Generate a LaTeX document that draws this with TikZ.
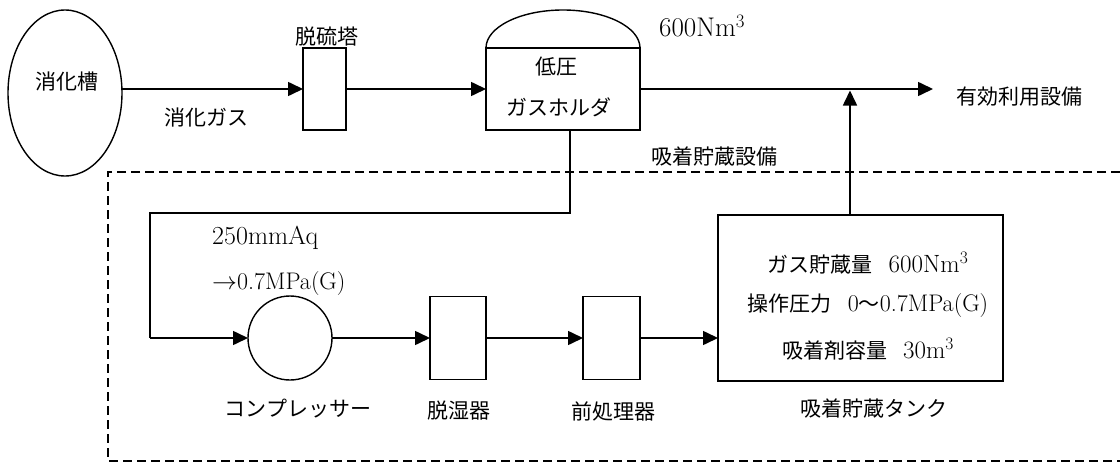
\documentclass[tikz,border=0pt]{standalone}
\usepackage{fontspec}
\newfontfamily\jp{Noto Sans CJK JP}
\newcommand\jpt[1]{{\fontsize{21}{25}\selectfont\jp #1}}
\usetikzlibrary{arrows.meta,shapes.geometric}
\begin{document}
\begin{tikzpicture}[x=1pt,y=-1pt,
  unit/.style={draw,line width=1.4pt,inner sep=0pt,outer sep=0pt},
  arr/.style={-{Triangle[length=15pt,width=14pt]},line width=1.6pt},
  pipe/.style={line width=1.6pt},
  lbl/.style={font=\fontsize{21}{25}\selectfont\jp,inner sep=0pt},
  num/.style={font=\fontsize{#1}{30}\selectfont,inner sep=0pt},
  border/.style={line width=1.2pt,dash pattern=on 9pt off 5pt}]
\useasboundingbox (0,0) rectangle (1120,463);

% dashed enclosure
\draw[border] (1120,172) -- (108,172) -- (108,461) -- (1120,461);

% upper line
\node[unit,ellipse,minimum width=114pt,minimum height=166pt] (digester) at (65,93) {};
\node[lbl] (digtxt) at (67,82) {消化槽};
\node[unit,minimum width=43pt,minimum height=82pt] (desulf) at (324.5,89) {};
\node[lbl] (desulftxt) at (327,37) {脱硫塔};
\node[lbl] (gas) at (206,118) {消化ガス};
\node[unit,minimum width=154pt,minimum height=82pt] (holder) at (563,89) {};
\draw[line width=1.4pt] (holder.north west) arc[start angle=180,end angle=0,x radius=77pt,y radius=38pt];
\node[lbl] (holdtxt1) at (556,67) {低圧};
\node[lbl] (holdtxt2) at (559,107) {ガスホルダ};
\node[num=27,anchor=west] (cap) at (659,26) {600Nm\textsuperscript{3}};
\coordinate (out) at (933,89);
\node[lbl,anchor=west] (use) at (956,97) {有効利用設備};
\node[lbl] (facility) at (714,157) {吸着貯蔵設備};

\draw[arr] (digester.east |- desulf.west) -- (desulf.west);
\draw[arr] (desulf.east) -- (holder.west);
\draw[arr] (holder.east) -- (out);

% lower line
\node[unit,circle,minimum size=84pt] (comp) at (290,338) {};
\node[unit,minimum width=56pt,minimum height=83pt] (dehum) at (458,338) {};
\node[unit,minimum width=57pt,minimum height=83pt] (pre) at (611.5,338) {};
\node[unit,minimum width=285pt,minimum height=166pt] (tank) at (860.5,298) {};

\node[num=26,anchor=west] (p1) at (212,238) {250mmAq};
\node[num=24,anchor=west] (p2) at (212,284) {$\rightarrow$0.7MPa(G)};
\node[lbl] (comptxt) at (298,409) {コンプレッサー};
\node[lbl] (dehumtxt) at (459,411) {脱湿器};
\node[lbl] (pretxt) at (613,411) {前処理器};
\node[lbl] (tanktxt) at (874,409) {吸着貯蔵タンク};

\node[num=25] (t1) at (868,263) {\jpt{ガス貯蔵量}\hspace{16pt}600Nm\textsuperscript{3}};
\node[num=24] (t2) at (868,306) {\jpt{操作圧力}\hspace{16pt}0\jpt{〜}0.7MPa(G)};
\node[num=25] (t3) at (868,349) {\jpt{吸着剤容量}\hspace{16pt}30m\textsuperscript{3}};

\coordinate (bend1) at (570,213);
\coordinate (bend2) at (150,213);
\coordinate (bend3) at (150,338);
\draw[pipe] (holder.south -| bend1) -- (bend1) -- (bend2) -- (bend3);
\draw[arr] (bend3) -- (comp.west);
\draw[arr] (comp.east) -- (dehum.west);
\draw[arr] (dehum.east) -- (pre.west);
\draw[arr] (pre.east) -- (pre.east -| tank.west);
\draw[arr] (tank.north -| 850,0) -- (850,90.5);
\end{tikzpicture}
\end{document}
